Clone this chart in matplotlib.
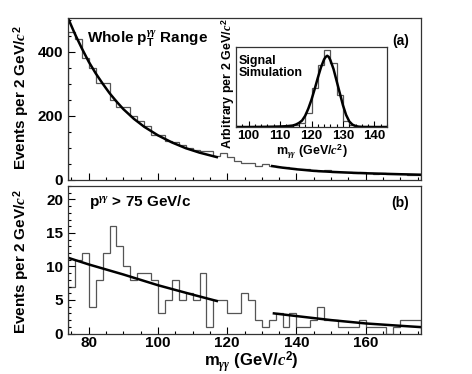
import numpy as np
import matplotlib
matplotlib.use('Agg')
import matplotlib.pyplot as plt
from matplotlib.ticker import MultipleLocator

plt.rcParams['font.family'] = ['Liberation Sans', 'DejaVu Sans']
plt.rcParams['font.weight'] = 'bold'
plt.rcParams['mathtext.fontset'] = 'custom'
plt.rcParams['mathtext.rm'] = 'Liberation Sans:bold'
plt.rcParams['mathtext.bf'] = 'Liberation Sans:bold'
plt.rcParams['mathtext.it'] = 'Liberation Serif:italic'

# diphoton mass bins, 2 GeV wide
edges = np.arange(74, 177, 2)

# (a) whole pT range: events per bin
counts_all = [460, 440, 381, 350, 301, 301, 249, 228, 228, 200,
              184, 166, 140, 138, 120, 118, 108, 100, 92, 88,
              88, 72, 84, 69, 58, 53, 53, 43, 48, 43,
              40, 38, 36, 34, 32, 30, 28, 29, 25, 25,
              22, 21, 22, 20, 18, 19, 17, 16, 16, 15, 15]
# background fit (a), sideband pieces
fit_a1_x = [74, 76, 78, 80, 82, 84, 86, 88, 90, 93, 96, 100, 104, 108, 112, 117]
fit_a1_y = [505, 455, 410, 368, 332, 300, 270, 244, 220, 190, 165, 138, 116, 98, 84, 70]
fit_a2_x = [133, 136, 140, 145, 150, 155, 160, 165, 170, 176]
fit_a2_y = [42, 37, 32, 27, 24, 21.5, 19.5, 18, 16.5, 15]

# (b) p > 75 GeV/c
counts_hi = [7, 11, 12, 4, 8, 12, 16, 13, 10, 8,
             9, 9, 8, 3, 5, 8, 5, 6, 5, 9,
             1, 5, 5, 3, 3, 6, 5, 2, 1, 2,
             3, 1, 3, 1, 1, 2, 4, 2, 2, 1,
             1, 1, 2, 1, 1, 1, 0, 1, 2, 2, 2]
fit_b1_x = [74, 80, 90, 100, 110, 117]
fit_b1_y = [11.3, 10.3, 8.8, 7.2, 5.8, 4.85]
fit_b2_x = [133.5, 140, 150, 160, 170, 176]
fit_b2_y = [3.0, 2.6, 2.0, 1.5, 1.15, 0.95]

# signal simulation inset
sig_edges = np.arange(96, 145, 2)
sig_counts = [0, 0, 0, 0, 0.003, 0.005, 0.008, 0.01, 0.015, 0.03,
              0.055, 0.17, 0.48, 0.77, 0.96, 0.79, 0.40, 0.07, 0.02, 0.01,
              0.005, 0, 0, 0]
sig_fit_x = [96, 100, 105, 108, 110, 112, 114, 115, 116, 117, 118, 119, 120,
             121, 122, 123, 124, 124.5, 125, 125.5, 126, 127, 128, 129, 130,
             131, 132, 133, 134, 135, 136, 140, 144]
sig_fit_y = [0, 0, 0.002, 0.004, 0.006, 0.01, 0.018, 0.03, 0.05, 0.08, 0.14,
             0.23, 0.34, 0.47, 0.61, 0.74, 0.84, 0.87, 0.885, 0.87, 0.83,
             0.72, 0.57, 0.42, 0.27, 0.15, 0.07, 0.03, 0.012, 0.004, 0.001, 0, 0]

hist_col = '#555555'
W, H = 472, 374
fig = plt.figure(figsize=(4.72, 3.74), dpi=100)


def box(x0, y0, x1, y1):
    # pixel box (top-left origin) -> figure fraction rect
    return [x0 / W, 1 - y1 / H, (x1 - x0) / W, (y1 - y0) / H]


def style(ax, size=11):
    ax.tick_params(which='both', direction='in', top=False, right=False,
                   labelsize=size, width=0.8)
    ax.tick_params(which='major', length=5)
    ax.tick_params(which='minor', length=2.5)
    for s in ax.spines.values():
        s.set_linewidth(0.9)
        s.set_color('#333333')
    for lab in ax.get_xticklabels() + ax.get_yticklabels():
        lab.set_fontweight('bold')


ax1 = fig.add_axes(box(68, 18, 421, 179.5))
ax1.stairs(counts_all, edges, color=hist_col, lw=0.9)
ax1.plot(fit_a1_x, fit_a1_y, color='black', lw=1.8)
ax1.plot(fit_a2_x, fit_a2_y, color='black', lw=1.8)
ax1.set_xlim(74, 176)
ax1.set_ylim(0, 505)
ax1.xaxis.set_major_locator(MultipleLocator(20))
ax1.xaxis.set_minor_locator(MultipleLocator(5))
ax1.yaxis.set_major_locator(MultipleLocator(200))
ax1.yaxis.set_minor_locator(MultipleLocator(50))
ax1.set_xticklabels([])
style(ax1)
ax1.text(0.055, 0.93, r'Whole p$_{\mathrm{T}}^{\gamma\gamma}$ Range', transform=ax1.transAxes,
         fontsize=11, fontweight='bold', va='top', ha='left')
ax1.text(0.965, 0.9, '(a)', transform=ax1.transAxes, fontsize=10,
         fontweight='bold', va='top', ha='right')

ax2 = fig.add_axes(box(68, 186, 421, 333.5))
ax2.stairs(counts_hi, edges, color=hist_col, lw=0.9)
ax2.plot(fit_b1_x, fit_b1_y, color='black', lw=1.8)
ax2.plot(fit_b2_x, fit_b2_y, color='black', lw=1.8)
ax2.set_xlim(74, 176)
ax2.set_ylim(0, 22)
ax2.xaxis.set_major_locator(MultipleLocator(20))
ax2.xaxis.set_minor_locator(MultipleLocator(5))
ax2.yaxis.set_major_locator(MultipleLocator(5))
ax2.yaxis.set_minor_locator(MultipleLocator(1))
style(ax2)
ax2.tick_params(axis='x', pad=2)
ax2.text(0.06, 0.955, r'p$^{\gamma\gamma}$ > 75 GeV/c', transform=ax2.transAxes,
         fontsize=11, fontweight='bold', va='top', ha='left')
ax2.text(0.965, 0.93, '(b)', transform=ax2.transAxes, fontsize=10,
         fontweight='bold', va='top', ha='right')

ylab = r'Events per 2 GeV/$c^2$'
fig.text(22 / W, 1 - 98 / H, ylab, rotation=90, fontsize=11,
         fontweight='bold', ha='center', va='center')
fig.text(22 / W, 1 - 262 / H, ylab, rotation=90, fontsize=11,
         fontweight='bold', ha='center', va='center')
fig.text(251 / W, 1 - 362 / H, r'm$_{\gamma\gamma}$ (GeV/$c^2$)', fontsize=12,
         fontweight='bold', ha='center', va='center')

ax3 = fig.add_axes(box(236, 46.5, 387, 127))
ax3.stairs(sig_counts, sig_edges, color=hist_col, lw=0.9)
ax3.plot(sig_fit_x, sig_fit_y, color='black', lw=1.8)
ax3.set_xlim(96, 144)
ax3.set_ylim(0, 1.0)
ax3.xaxis.set_major_locator(MultipleLocator(10))
ax3.xaxis.set_minor_locator(MultipleLocator(2))
ax3.set_yticks([])
style(ax3, 9.5)
ax3.tick_params(pad=2)
ax3.tick_params(which='major', length=4)
ax3.tick_params(which='minor', length=2)
ax3.text(0.02, 0.9, 'Signal\nSimulation', transform=ax3.transAxes, fontsize=9,
         fontweight='bold', va='top', ha='left', linespacing=1.0)
ax3.set_xlabel(r'm$_{\gamma\gamma}$ (GeV/$c^2$)', fontsize=9, fontweight='bold',
               labelpad=1)
fig.text(228.5 / W, 1 - 84 / H, r'Arbitrary per 2 GeV/$c^2$', rotation=90,
         fontsize=9, fontweight='bold', ha='center', va='center')

fig.savefig('out.png', dpi=100)
